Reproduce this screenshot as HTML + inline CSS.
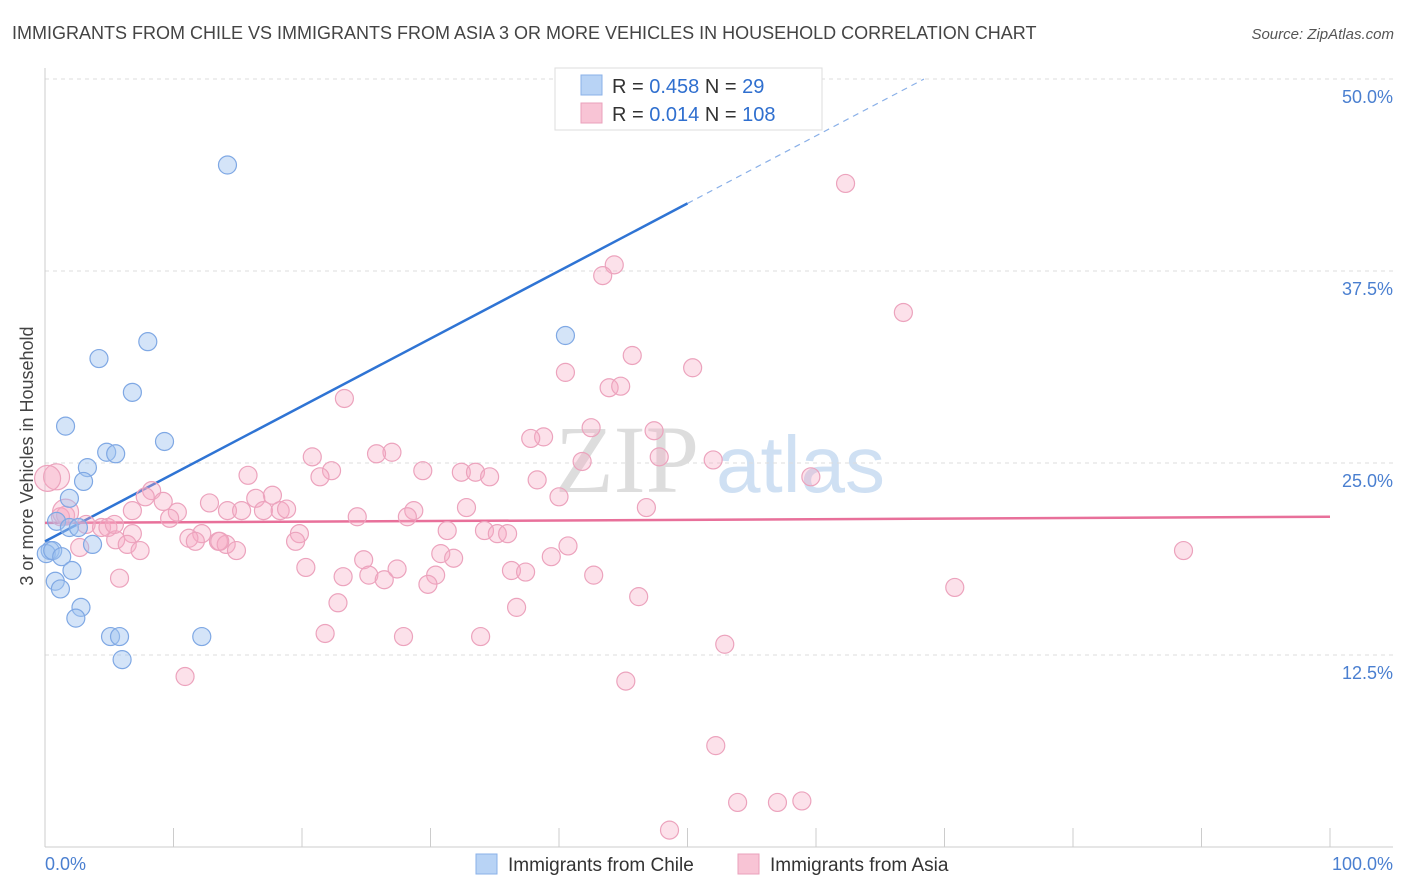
<!DOCTYPE html>
<html><head><meta charset="utf-8"><style>
body{margin:0;background:#fff;font-family:"Liberation Sans",sans-serif;}
svg{display:block}
</style></head><body>
<svg id="chart" width="1406" height="892" xmlns="http://www.w3.org/2000/svg">
<text x="12" y="39" font-size="18" fill="#444">IMMIGRANTS FROM CHILE VS IMMIGRANTS FROM ASIA 3 OR MORE VEHICLES IN HOUSEHOLD CORRELATION CHART</text>
<text x="1394" y="39" font-size="15" fill="#555" font-style="italic" text-anchor="end">Source: ZipAtlas.com</text>
<g><text x="555" y="492" font-size="96" fill="#ddd" font-family="Liberation Serif" >ZIP</text><text x="716" y="492" font-size="80" fill="#cfe0f3">atlas</text></g>
<g id="grid"></g>
<g id="axes"></g>
<g id="lines"></g>
<g id="pts"></g>
<text transform="translate(33,456) rotate(-90)" font-size="18" fill="#444" text-anchor="middle">3 or more Vehicles in Household</text>
<g>
<rect x="555" y="68" width="267" height="62" fill="#fff" stroke="#ddd"/>
<rect x="581" y="75" width="21" height="20" fill="#b8d3f5" stroke="#8ab0e8"/>
<rect x="581" y="103" width="21" height="20" fill="#f8c4d5" stroke="#eaa0bb"/>
<text x="612" y="93" font-size="20" fill="#333">R = <tspan fill="#2f6fcf">0.458</tspan>   N = <tspan fill="#2f6fcf">  29</tspan></text>
<text x="612" y="121" font-size="20" fill="#333">R = <tspan fill="#2f6fcf">0.014</tspan>   N = <tspan fill="#2f6fcf">108</tspan></text>
</g>
<g>
<rect x="476" y="854" width="21" height="20" fill="#b8d3f5" stroke="#8ab0e8"/>
<text x="508" y="871" font-size="19" fill="#333">Immigrants from Chile</text>
<rect x="738" y="854" width="21" height="20" fill="#f8c4d5" stroke="#eaa0bb"/>
<text x="770" y="871" font-size="19" fill="#333">Immigrants from Asia</text>
</g>
</svg>
<script>
const yTicks=[12.5,25,37.5,50];
const yTickLabels=["12.5%","25.0%","37.5%","50.0%"];
const xTickLabels=["0.0%","100.0%"];
const chileX=[14.2,4.2,8.0,6.8,1.6,9.3,4.8,5.5,3.3,3.0,1.9,0.9,1.9,2.6,3.7,0.4,0.1,0.6,1.3,2.1,0.8,1.2,2.8,2.4,5.1,5.8,12.2,6.0,40.5];
const chileY=[44.4,31.8,32.9,29.6,27.4,26.4,25.7,25.6,24.7,23.8,22.7,21.2,20.8,20.8,19.7,19.3,19.1,19.3,18.9,18.0,17.3,16.8,15.6,14.9,13.7,13.7,13.7,12.2,33.3];
const asiaX=[62.3,44.3,43.4,66.8,45.7,50.4,40.5,43.9,44.8,23.3,42.5,47.4,38.8,37.8,27.0,25.8,20.8,47.8,52.0,41.8,22.3,32.4,33.5,34.6,15.8,29.4,21.4,59.6,38.3,8.3,7.8,9.2,12.8,17.7,16.4,40.0,32.8,6.8,10.3,9.7,14.2,15.3,17.0,18.3,18.8,24.3,28.7,28.2,46.8,1.2,1.6,3.2,4.4,4.9,6.8,19.8,12.2,11.2,11.7,13.5,14.1,14.9,19.5,31.3,34.2,35.2,36.0,5.5,6.4,7.4,2.7,40.7,30.8,39.4,31.8,24.8,20.3,27.4,23.2,25.2,26.4,30.4,36.3,37.4,42.7,29.8,5.8,70.8,88.6,46.2,22.8,36.7,21.8,27.9,33.9,52.9,10.9,45.2,52.2,53.9,57.0,58.9,48.6,0.9,0.2,1.6,5.4,13.6];
const asiaY=[43.2,37.9,37.2,34.8,32.0,31.2,30.9,29.9,30.0,29.2,27.3,27.1,26.7,26.6,25.7,25.6,25.4,25.4,25.2,25.1,24.5,24.4,24.4,24.1,24.2,24.5,24.1,24.1,23.9,23.2,22.8,22.5,22.4,22.9,22.7,22.8,22.1,21.9,21.8,21.4,21.9,21.9,21.9,21.9,22.0,21.5,21.9,21.5,22.1,21.5,21.6,21.0,20.8,20.8,20.4,20.4,20.4,20.1,19.9,19.9,19.7,19.3,19.9,20.6,20.6,20.4,20.4,20.0,19.7,19.3,19.5,19.6,19.1,18.9,18.8,18.7,18.2,18.1,17.6,17.7,17.4,17.7,18.0,17.9,17.7,17.1,17.5,16.9,19.3,16.3,15.9,15.6,13.9,13.7,13.7,13.2,11.1,10.8,6.6,2.9,2.9,3.0,1.1,24.1,24.0,21.8,21.0,19.9];
const asiaBig=[0,0,0,0,0,0,0,0,0,0,0,0,0,0,0,0,0,0,0,0,0,0,0,0,0,0,0,0,0,0,0,0,0,0,0,0,0,0,0,0,0,0,0,0,0,0,0,0,0,0,0,0,0,0,0,0,0,0,0,0,0,0,0,0,0,0,0,0,0,0,0,0,0,0,0,0,0,0,0,0,0,0,0,0,0,0,0,0,0,0,0,0,0,0,0,0,0,0,0,0,0,0,0,1,1,1,0,0];
const chileTrend=[19.9,0.44];
const asiaTrend=[21.1,0.004];
const NS="http://www.w3.org/2000/svg";
const X=v=>45+v*12.85, Y=v=>847-v*15.36;
function mk(tag,at,parent){const e=document.createElementNS(NS,tag);for(const k in at)e.setAttribute(k,at[k]);document.getElementById(parent).appendChild(e);return e;}
yTicks.forEach((t,i)=>{
 const l=mk('line',{x1:45,x2:1393,y1:Y(t),y2:Y(t),stroke:'#ddd','stroke-dasharray':'4,4'},'grid');
 
 
 const tx=mk('text',{x:1393,y:Y(t)+24,'font-size':18,fill:'#4a7fd0','text-anchor':'end'},'axes');
 tx.textContent=yTickLabels[i];
 
 
});
mk('line',{x1:45,x2:45,y1:68,y2:847,stroke:'#ccc'},'axes');
mk('line',{x1:45,x2:1393,y1:847,y2:847,stroke:'#ccc'},'axes');
for(let i=0;i<=10;i++){const t=mk('line',{x1:X(i*10),x2:X(i*10),y1:828,y2:847,stroke:'#ccc'},'axes');}
[[0,'start',45],[1,'end',1393]].forEach(([i,a,x])=>{const t=mk('text',{x:x,y:870,'font-size':18,fill:'#4a7fd0','text-anchor':a},'axes');t.textContent=xTickLabels[i];});
let l=mk('line',{x1:X(0),y1:Y(chileTrend[0]),x2:X(50),y2:Y(chileTrend[0]+chileTrend[1]*50),stroke:'#2f74d4','stroke-width':2.5},'lines');

l=mk('line',{x1:X(50),y1:Y(chileTrend[0]+chileTrend[1]*50),x2:X(68.4),y2:Y(chileTrend[0]+chileTrend[1]*68.4),stroke:'#8ab0e8','stroke-width':1.2,'stroke-dasharray':'6,5'},'lines');

l=mk('line',{x1:X(0),y1:Y(asiaTrend[0]),x2:X(100),y2:Y(asiaTrend[0]+asiaTrend[1]*100),stroke:'#e8709a','stroke-width':2.5},'lines');

asiaX.forEach((x,i)=>{const c=mk('circle',{cx:X(x),cy:Y(asiaY[i]),r:asiaBig[i]?13:9,fill:'rgba(246,170,196,0.35)',stroke:'#eca3bd','stroke-width':1.2},'pts');
 });
chileX.forEach((x,i)=>{const c=mk('circle',{cx:X(x),cy:Y(chileY[i]),r:9,fill:'rgba(160,196,240,0.45)',stroke:'#7fa8e4','stroke-width':1.2},'pts');
 });
</script>
</body></html>
